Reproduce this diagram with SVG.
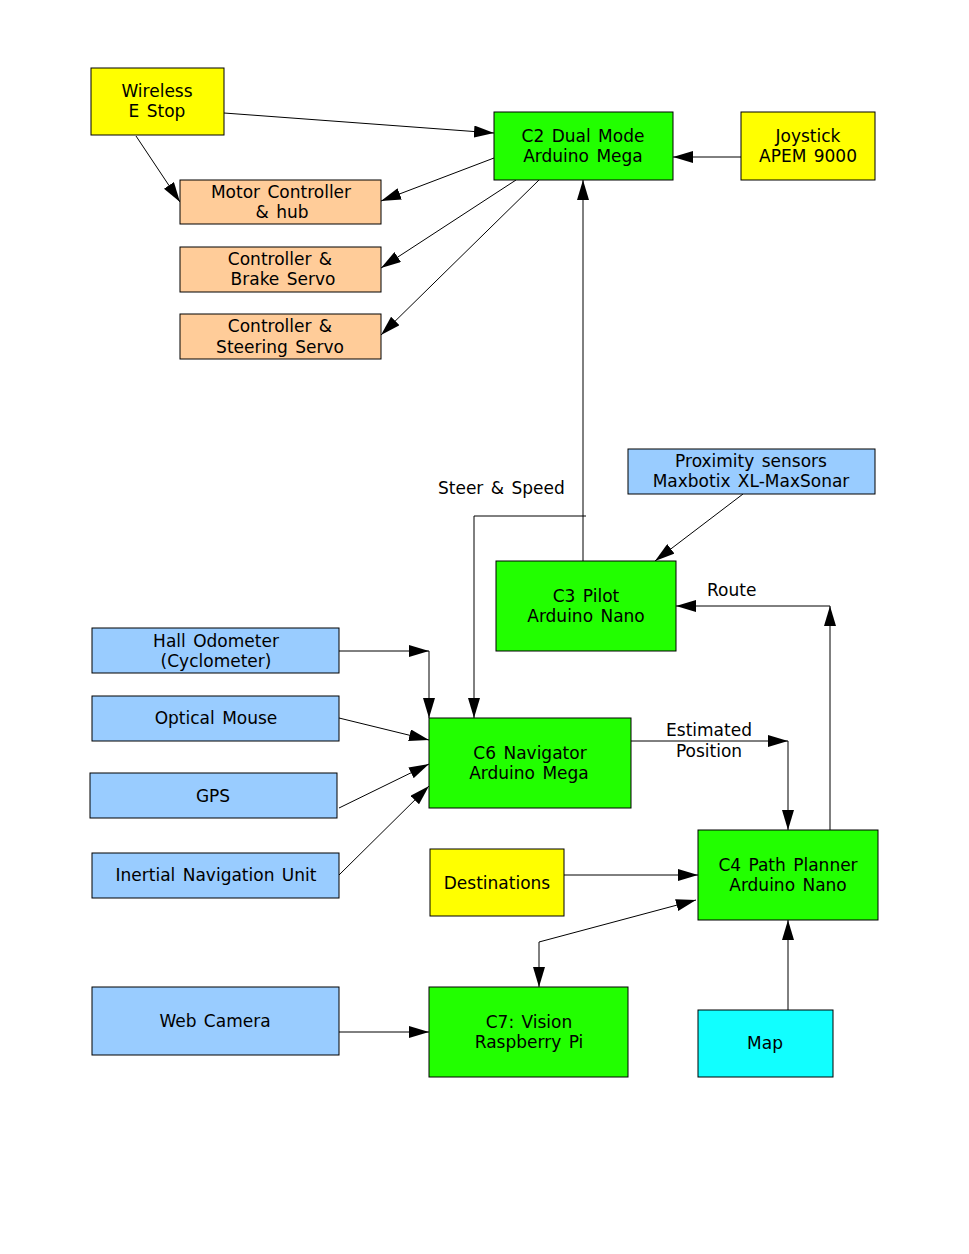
<svg xmlns="http://www.w3.org/2000/svg" width="969" height="1254" viewBox="0 0 969 1254">
<style>
.box{stroke:#000;stroke-width:1}
.y{fill:#ffff00}.p{fill:#ffcc99}.g{fill:#22ff00}.b{fill:#99ccff}.c{fill:#11ffff}
text{font-family:"DejaVu Sans",sans-serif;font-size:17px;fill:#000;text-anchor:middle;word-spacing:2px}
.lbl{text-anchor:start}
.e{fill:none;stroke:#000;stroke-width:1}
.a{marker-end:url(#ah)}
.s{marker-start:url(#as)}
</style>
<defs>
<marker id="ah" markerUnits="userSpaceOnUse" markerWidth="20" markerHeight="12" refX="20" refY="6" orient="auto"><path d="M0,0 L20,6 L0,12 z" fill="#000"/></marker>
<marker id="as" markerUnits="userSpaceOnUse" markerWidth="20" markerHeight="12" refX="0" refY="6" orient="auto"><path d="M20,0 L0,6 L20,12 z" fill="#000"/></marker>
</defs>
<rect width="969" height="1254" fill="#fff"/>
<g id="connectors">
<path class="e a" d="M224,113 L494,133"/>
<path class="e a" d="M136,136 L180,202"/>
<path class="e a" d="M494,158 L381,201"/>
<path class="e a" d="M516,180 L381,268"/>
<path class="e a" d="M539,180 L381,335"/>
<path class="e a" d="M741,157 L673,157"/>
<path class="e a" d="M583,561 L583,180"/>
<path class="e a" d="M586,516 L474,516 L474,718"/>
<path class="e a" d="M743,494 L655,561"/>
<path class="e a" d="M830,830 L830,606"/>
<path class="e a" d="M830,606 L676,606"/>
<path class="e a" d="M339,651 L429,651"/>
<path class="e a" d="M429,651 L429,718"/>
<path class="e a" d="M339,718 L429,740"/>
<path class="e a" d="M339,808 L429,764"/>
<path class="e a" d="M339,875 L429,786"/>
<path class="e a" d="M631,741 L788,741"/>
<path class="e a" d="M788,741 L788,830"/>
<path class="e a" d="M564,875 L698,875"/>
<path class="e a" d="M539,942 L696,900"/>
<path class="e a" d="M539,942 L539,987"/>
<path class="e a" d="M339,1032 L429,1032"/>
<path class="e a" d="M788,1010 L788,920"/>
<text class="lbl" x="438" y="494">Steer &amp; Speed</text>
<text class="lbl" x="707" y="596">Route</text>
<text x="709" y="736">Estimated</text>
<text x="709" y="757">Position</text>
</g>
<g id="wireless"><rect class="box y" x="91" y="68" width="133" height="67"/><text x="157" y="97">Wireless</text><text x="157" y="117">E Stop</text></g>
<g id="motor"><rect class="box p" x="180" y="180" width="201" height="44"/><text x="281" y="198">Motor Controller</text><text x="282" y="218">&amp; hub</text></g>
<g id="brake"><rect class="box p" x="180" y="247" width="201" height="45"/><text x="280" y="265">Controller &amp;</text><text x="283" y="285">Brake Servo</text></g>
<g id="steering"><rect class="box p" x="180" y="314" width="201" height="45"/><text x="280" y="332">Controller &amp;</text><text x="280" y="353">Steering Servo</text></g>
<g id="c2"><rect class="box g" x="494" y="112" width="179" height="68"/><text x="583" y="142">C2 Dual Mode</text><text x="583" y="162">Arduino Mega</text></g>
<g id="joystick"><rect class="box y" x="741" y="112" width="134" height="68"/><text x="808" y="142">Joystick</text><text x="808" y="162">APEM 9000</text></g>
<g id="proximity"><rect class="box b" x="628" y="449" width="247" height="45"/><text x="751" y="467">Proximity sensors</text><text x="751" y="487">Maxbotix XL-MaxSonar</text></g>
<g id="c3"><rect class="box g" x="496" y="561" width="180" height="90"/><text x="586" y="602">C3 Pilot</text><text x="586" y="622">Arduino Nano</text></g>
<g id="hall"><rect class="box b" x="92" y="628" width="247" height="45"/><text x="216" y="647">Hall Odometer</text><text x="216" y="667">(Cyclometer)</text></g>
<g id="mouse"><rect class="box b" x="92" y="696" width="247" height="45"/><text x="216" y="724">Optical Mouse</text></g>
<g id="gps"><rect class="box b" x="90" y="773" width="247" height="45"/><text x="213" y="802">GPS</text></g>
<g id="inu"><rect class="box b" x="92" y="853" width="247" height="45"/><text x="216" y="881">Inertial Navigation Unit</text></g>
<g id="c6"><rect class="box g" x="429" y="718" width="202" height="90"/><text x="530" y="759">C6 Navigator</text><text x="529" y="779">Arduino Mega</text></g>
<g id="destinations"><rect class="box y" x="430" y="849" width="134" height="67"/><text x="497" y="889">Destinations</text></g>
<g id="c4"><rect class="box g" x="698" y="830" width="180" height="90"/><text x="788" y="871">C4 Path Planner</text><text x="788" y="891">Arduino Nano</text></g>
<g id="webcam"><rect class="box b" x="92" y="987" width="247" height="68"/><text x="215" y="1027">Web Camera</text></g>
<g id="c7"><rect class="box g" x="429" y="987" width="199" height="90"/><text x="529" y="1028">C7: Vision</text><text x="529" y="1048">Raspberry Pi</text></g>
<g id="map"><rect class="box c" x="698" y="1010" width="135" height="67"/><text x="765" y="1049">Map</text></g>
</svg>
